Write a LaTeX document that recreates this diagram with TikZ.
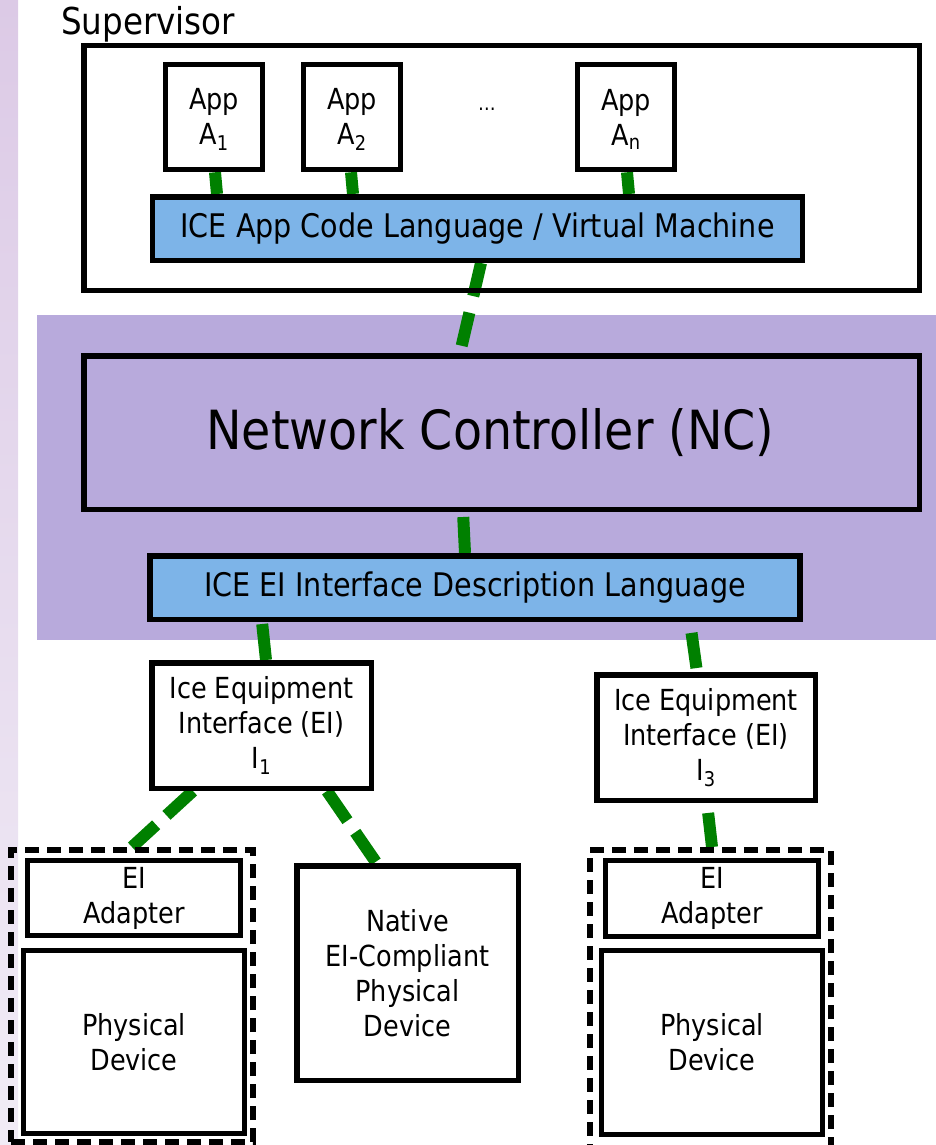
\documentclass[tikz,border=0pt]{standalone}
\usepackage{fontspec}
\setmainfont{DejaVu Sans}[FakeStretch=0.88]
\definecolor{band}{HTML}{B8AADC}
\definecolor{barblue}{HTML}{7DB4E8}
\definecolor{grn}{HTML}{008000}
\definecolor{stripT}{HTML}{DCCAE6}
\definecolor{stripB}{HTML}{F1ECF6}
\pgfdeclarelayer{bg}
\pgfdeclarelayer{mid}
\pgfsetlayers{bg,mid,main}
\begin{document}
\begin{tikzpicture}[x=1pt,y=-1pt,
  box/.style={draw=black, line width=5.5pt, fill=white, align=center, inner sep=0pt,
              font=\fontsize{29}{35}\selectfont},
  clearbox/.style={draw=black, line width=5.5pt, align=center, inner sep=0pt},
  bar/.style={draw=black, line width=5.5pt, fill=barblue, inner sep=0pt,
              font=\fontsize{32.5}{38}\selectfont},
  dbox/.style={draw=black, line width=6pt, dash pattern=on 14pt off 8pt, inner sep=0pt},
  link/.style={draw=grn, line width=12pt, line cap=butt, dash pattern=on 36pt off 14pt},
  plain/.style={draw=grn, line width=12pt, line cap=butt},
]
\useasboundingbox (0,0) rectangle (936,1145);

\begin{pgfonlayer}{bg}
  \shade[top color=stripT, bottom color=stripB] (0,0) rectangle (18,1145);
  \fill[band] (37,315) rectangle (936,640);
\end{pgfonlayer}

% Supervisor
\node[anchor=base west, inner sep=0pt, font=\fontsize{37}{40}\selectfont] (suptitle) at (61,35) {Supervisor};
\node[clearbox, minimum width=835.5, minimum height=245] (sup) at (501.5,168) {};
\node[box, minimum width=97, minimum height=105] (a1) at (214,117) {\rule{0pt}{26pt}App\\A\textsubscript{1}};
\node[box, minimum width=97, minimum height=105] (a2) at (352,117) {\rule{0pt}{26pt}App\\A\textsubscript{2}};
\node[box, minimum width=97, minimum height=105] (an) at (626,117) {\rule{0pt}{26pt}App\\A\textsubscript{n}};
\node[inner sep=0pt, font=\fontsize{20}{24}\selectfont] (dots) at (487,109) {…};
\node[bar, minimum width=650, minimum height=63.5] (appbar) at (477.5,228.5) {ICE App Code Language / Virtual Machine};

% Network controller
\node[clearbox, minimum width=835.5, minimum height=153.5, font=\fontsize{54}{60}\selectfont] (nc) at (501.5,432.5) {\raisebox{-3pt}{Network Controller (NC)}\hspace*{22pt}};
\node[bar, minimum width=650, minimum height=63.5] (eibar) at (475,587.5) {ICE EI Interface Description Language};

% Equipment interfaces
\node[box, minimum width=219.5, minimum height=125.5] (i1) at (261.5,725.5) {Ice Equipment\\Interface (EI)\\I\textsubscript{1}};
\node[box, minimum width=218.5, minimum height=125.5] (i3) at (706,737.5) {Ice Equipment\\Interface (EI)\\I\textsubscript{3}};

% Devices
\node[dbox, minimum width=242, minimum height=292] (ldash) at (132,996) {};
\node[box, line width=5pt, minimum width=213, minimum height=75] (lad) at (134,898) {EI\\Adapter};
\node[box, line width=5pt, minimum width=221, minimum height=183] (lpd) at (134,1042) {Physical\\Device};
\node[box, minimum width=221.5, minimum height=214.5] (nat) at (407.5,973) {Native\\EI-Compliant\\Physical\\Device};
\node[dbox, minimum width=241, minimum height=302] (rdash) at (710.5,1001) {};
\node[box, line width=5pt, minimum width=213, minimum height=76] (rad) at (712,898.5) {EI\\Adapter};
\node[box, line width=5pt, minimum width=221, minimum height=184] (rpd) at (712,1042.5) {Physical\\Device};

% Connectors
\begin{pgfonlayer}{mid}
  \draw[plain] ([xshift=1]a1.south) -- ([xshift=-260.5]appbar.north);
  \draw[plain] ([xshift=-1]a2.south) -- ([xshift=-124.5]appbar.north);
  \draw[plain] ([xshift=1]an.south) -- ([xshift=151.5]appbar.north);
  \draw[link, dash pattern=on 34pt off 17pt] ([xshift=3.5]appbar.south) -- ([xshift=-41.5]nc.north);
  \draw[plain, shorten <=5pt] ([xshift=-38.5]nc.south) -- ([xshift=-10]eibar.north);
  \draw[plain, shorten <=2pt] ([xshift=-213]eibar.south) -- ([xshift=4.5]i1.north);
  \draw[plain, shorten <=11pt, shorten >=4pt] ([xshift=215]eibar.south) -- ([xshift=-9]i3.north);
  \draw[plain, shorten <=10pt] ([xshift=1]i3.south) -- ([xshift=1.5]rdash.north);
  \draw[link] ([xshift=-68.5]i1.south) -- ([xshift=0]ldash.north);
  \draw[link] ([xshift=65.5]i1.south) -- ([xshift=-31]nat.north);
\end{pgfonlayer}
\end{tikzpicture}
\end{document}
